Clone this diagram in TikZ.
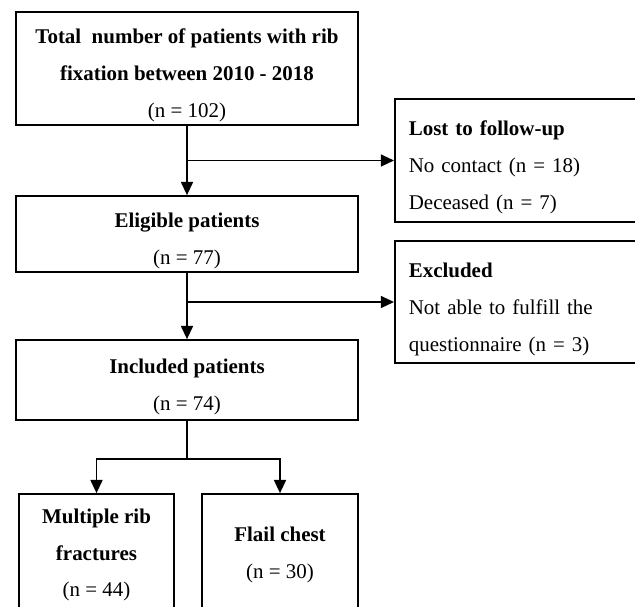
\documentclass[tikz,border=0pt]{standalone}
\usepackage{fontspec}
\setmainfont{Liberation Serif}
\usetikzlibrary{arrows.meta,positioning,calc}
\newcommand{\topgap}{\rule{0pt}{0.72cm}}

\begin{document}
\begin{tikzpicture}[x=0.025cm, y=-0.025cm,
  every node/.style={font=\fontsize{14.9}{26.2}\selectfont},
  box/.style={draw, line width=1.2pt, align=center, inner sep=0pt},
  mainbox/.style={box, minimum width=8.55cm},
  sidebox/.style={draw, line width=1.2pt, align=left, inner xsep=0.35cm, text width=6.05cm, minimum height=3.05cm},
  arr/.style={line width=1.2pt, -{Triangle[length=3.3mm, width=3mm]}}]
\useasboundingbox (0,0) rectangle (635,606);
\clip (0,0) rectangle (635,606);

% Main column
\node[mainbox, minimum height=2.825cm] (total) at (187,68.5)
  {\topgap\textbf{Total\ \ number of patients with rib}\\ \textbf{fixation between 2010 - 2018}\\ (n = 102)};
\node[mainbox, minimum height=1.9cm] (eligible) at (187,234)
  {\topgap\textbf{Eligible patients}\\ (n = 77)};
\node[mainbox, minimum height=2cm] (included) at (187,380)
  {\topgap\textbf{Included patients}\\ (n = 74)};

% Right: removed patients
\node[sidebox, minimum height=3.075cm, anchor=west] (lost) at (394,160.5)
  {\topgap\textbf{Lost to follow-up}\\ No contact (n = 18)\\ Deceased (n = 7)};
\node[sidebox, anchor=west] (excluded) at (394,302)
  {\topgap\textbf{Excluded}\\ Not able to fulfill the\\ questionnaire (n = 3)};

% Bottom: subgroups
\node[box, minimum width=3.875cm, minimum height=3.05cm] (multi) at (96.5,555)
  {\textbf{Multiple rib}\\ \textbf{fractures}\\ (n = 44)};
\node[box, minimum width=3.9cm, minimum height=3.05cm] (flail) at (280,555)
  {\textbf{Flail chest}\\ (n = 30)};

% Arrows
\draw[arr] (total) -- (eligible);
\draw[arr] (total.south |- lost.west) -- (lost.west);
\draw[arr] (eligible) -- (included);
\draw[arr] (eligible.south |- excluded.west) -- (excluded.west);
\coordinate (split) at (187,459);
\draw[line width=1.2pt] (included.south) -- (split);
\draw[arr] (split) -| (multi.north);
\draw[arr] (split) -| (flail.north);
\end{tikzpicture}
\end{document}
